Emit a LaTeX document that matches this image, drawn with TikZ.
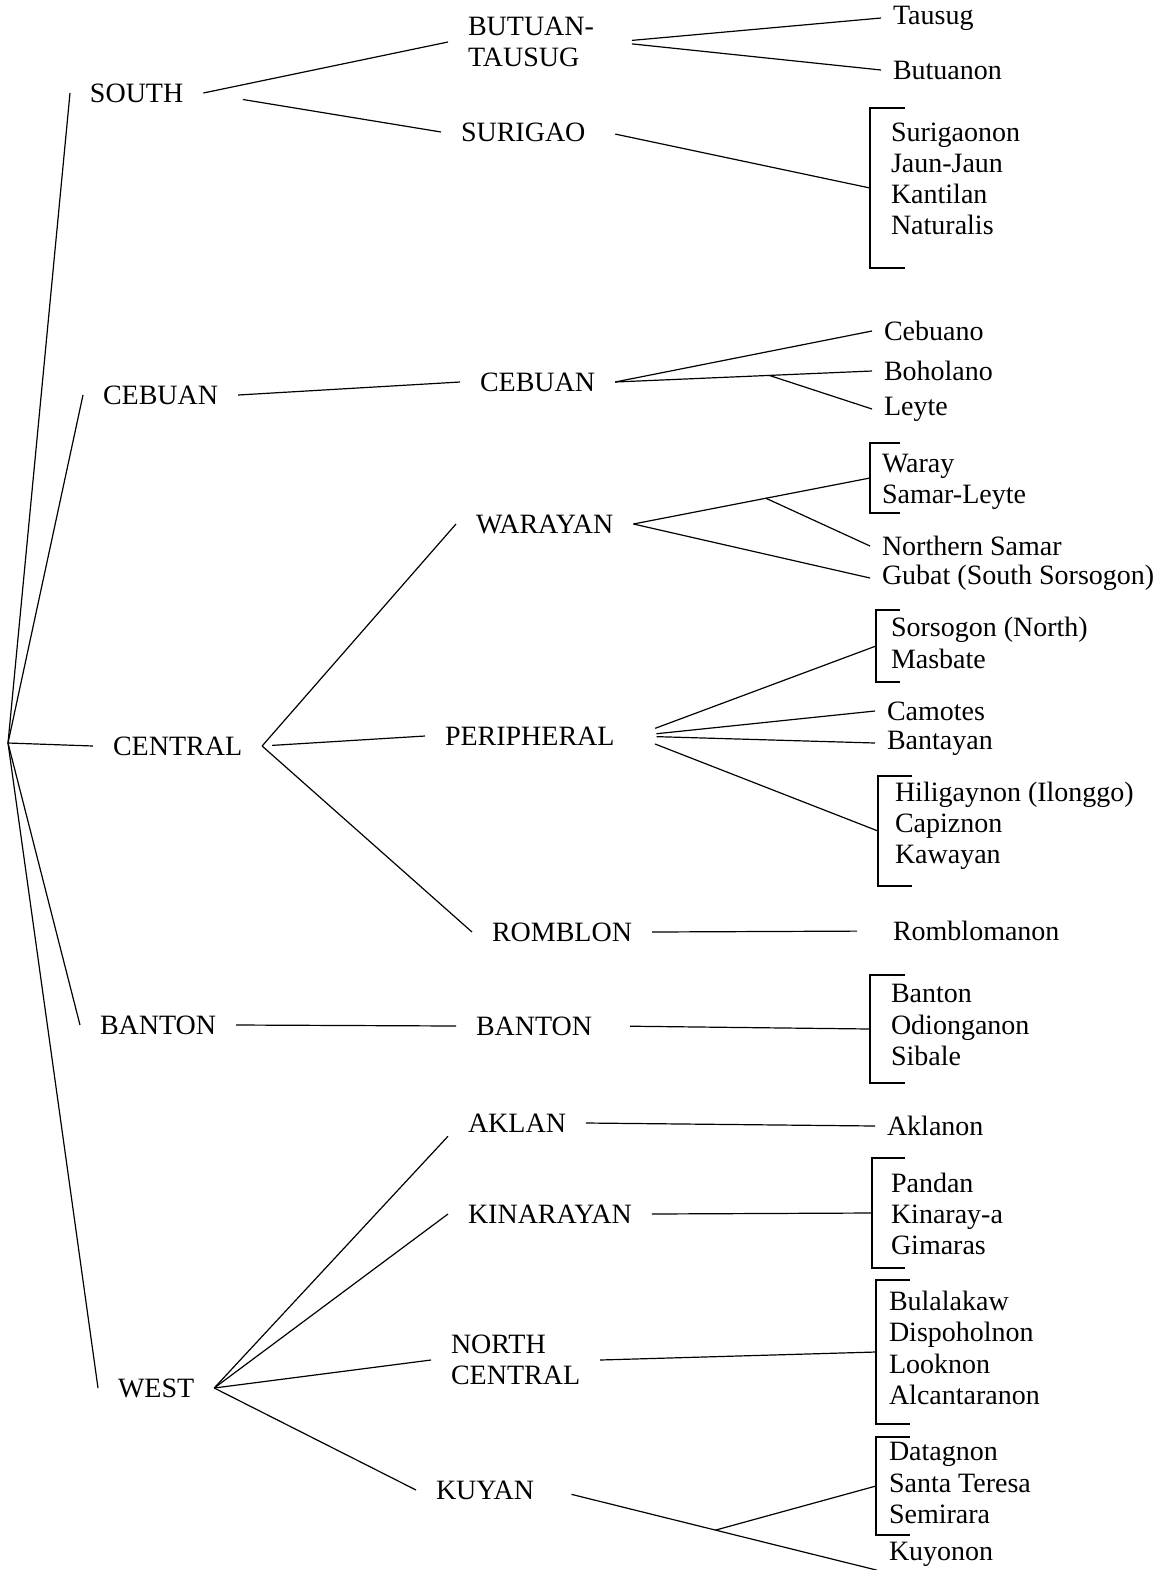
\documentclass[tikz,border=0pt]{standalone}
\usepackage{fontspec}
\setmainfont{Liberation Serif}

\begin{document}
\begin{tikzpicture}[x=0.5pt, y=-0.5pt, line width=0.6pt,
    font=\fontsize{14pt}{15.6pt}\selectfont,
    grp/.style={inner sep=0pt, outer xsep=10pt, outer ysep=2pt, anchor=west, align=left},
    leaf/.style={inner sep=0pt, outer xsep=6pt, outer ysep=2pt, anchor=west, align=left},
    bracket/.style 2 args={inner sep=0pt, outer sep=0pt, minimum width=#1, minimum height=#2, anchor=north west}]
  \useasboundingbox (0,0) rectangle (1166,1570);
  \coordinate (root) at (8,743);
  % first split
  \node[grp] (south) at (70,93) {SOUTH};
  \node[grp] (cebuanA) at (83,395) {CEBUAN};
  \node[grp] (central) at (93,746) {CENTRAL};
  \node[grp] (bantonA) at (80,1025) {BANTON};
  \node[grp] (west) at (98,1388) {WEST};
  % subgroups
  \node[grp] (butuan) at (448,42) {BUTUAN-\\TAUSUG};
  \node[grp] (surigao) at (441,132) {SURIGAO};
  \node[grp] (cebuanB) at (460,382) {CEBUAN};
  \node[grp] (warayan) at (456,524) {WARAYAN};
  \node[grp] (peripheral) at (425,736) {PERIPHERAL};
  \node[grp] (romblon) at (472,932) {ROMBLON};
  \node[grp] (bantonB) at (456,1026) {BANTON};
  \node[grp] (aklan) at (448,1123) {AKLAN};
  \node[grp] (kinarayan) at (448,1214) {KINARAYAN};
  \node[grp] (northc) at (431,1360) {NORTH\\CENTRAL};
  \node[grp] (kuyan) at (416,1490) {KUYAN};
  % languages
  \node[leaf] (tausug) at (881,18) {Tausug};
  \node[leaf] (butuanon) at (881,70) {Butuanon};
  \node[leaf] (surigaoL) at (879,179) {Surigaonon\\Jaun-Jaun\\Kantilan\\Naturalis};
  \node[leaf] (cebuano) at (872,331) {Cebuano};
  \node[leaf] (boholano) at (872,371) {Boholano};
  \node[leaf] (leyte) at (872,409) {Leyte};
  \node[leaf] (waray) at (870,482) {Waray\\Samar-Leyte};
  \node[leaf] (nsamar) at (870,546) {Northern Samar};
  \node[leaf] (gubat) at (870,578) {Gubat (South Sorsogon)};
  \node[leaf] (sorsogon) at (879,643) {Sorsogon (North)\\Masbate};
  \node[leaf] (camotes) at (875,711) {Camotes};
  \node[leaf] (bantayan) at (875,743) {Bantayan};
  \node[leaf] (hiligaynon) at (883,826) {Hiligaynon (Ilonggo)\\Capiznon\\Kawayan};
  \node[leaf] (romblomanon) at (881,931) {Romblomanon};
  \node[leaf] (bantonL) at (879,1025) {Banton\\Odionganon\\Sibale};
  \node[leaf] (aklanon) at (875,1126) {Aklanon};
  \node[leaf] (pandan) at (879,1214) {Pandan\\Kinaray-a\\Gimaras};
  \node[leaf] (bulalakaw) at (877,1348) {Bulalakaw\\Dispoholnon\\Looknon\\Alcantaranon};
  \node[leaf] (datagnon) at (877,1483) {Datagnon\\Santa Teresa\\Semirara};
  \node[leaf] (kuyonon) at (877,1554) {Kuyonon};
  % brackets
  \node[bracket={17.5pt}{80pt}] (brSur) at (870,108) {};
  \node[bracket={15pt}{35pt}] (brWar) at (870,443) {};
  \node[bracket={12pt}{36pt}] (brSor) at (876,610) {};
  \node[bracket={17pt}{55pt}] (brHil) at (878,776) {};
  \node[bracket={17.5pt}{54pt}] (brBan) at (870,975) {};
  \node[bracket={16.5pt}{55pt}] (brPan) at (872,1158) {};
  \node[bracket={17pt}{72pt}] (brBul) at (876,1280) {};
  \node[bracket={17pt}{49pt}] (brDat) at (876,1437) {};
  \foreach \b in {brSur,brWar,brSor,brHil,brBan,brPan,brBul,brDat}
    \draw (\b.north east) -| (\b.south west) -- (\b.south east);
  % tree lines
  \foreach \n in {south,cebuanA,central,bantonA,west} \draw (root) -- (\n.west);
  \draw (south.east) -- (butuan.west);
  \draw[shorten <=20pt] (south.east) -- (surigao.west);
  \draw (cebuanA.east) -- (cebuanB.west);
  \foreach \n in {warayan,romblon} \draw (central.east) -- (\n.west);
  \draw[shorten <=5pt] (central.east) -- (peripheral.west);
  \draw (bantonA.east) -- (bantonB.west);
  \draw (west.east) -- (aklan.south west);
  \foreach \n in {kinarayan,northc,kuyan} \draw (west.east) -- (\n.west);
  \draw[shorten <=9pt] (butuan.east) -- (tausug.west);
  \draw[shorten <=9pt] (butuan.east) -- (butuanon.west);
  \draw[shorten <=5pt] (surigao.east) -- (brSur.west);
  \draw (cebuanB.east) -- (cebuano.west);
  \draw (cebuanB.east) -- coordinate[pos=0.6] (cbFork) (boholano.west);
  \draw (cbFork) -- (leyte.west);
  \draw (warayan.east) -- coordinate[pos=0.56] (wrFork) (brWar.west);
  \draw (wrFork) -- (nsamar.west);
  \draw (warayan.east) -- (gubat.west);
  \foreach \n in {brSor,camotes,bantayan,brHil} \draw[shorten <=11pt] (peripheral.east) -- (\n.west);
  \draw[shorten >=12pt] (romblon.east) -- (romblomanon.west);
  \draw[shorten <=9pt] (bantonB.east) -- (brBan.west);
  \draw (aklan.east) -- (aklanon.west);
  \draw (kinarayan.east) -- (brPan.west);
  \draw (northc.east) -- (brBul.west);
  \draw[shorten <=9pt] (kuyan.east) -- coordinate[pos=0.5] (kyFork) (kuyonon.south west);
  \draw (kyFork) -- (brDat.west);
\end{tikzpicture}
\end{document}
